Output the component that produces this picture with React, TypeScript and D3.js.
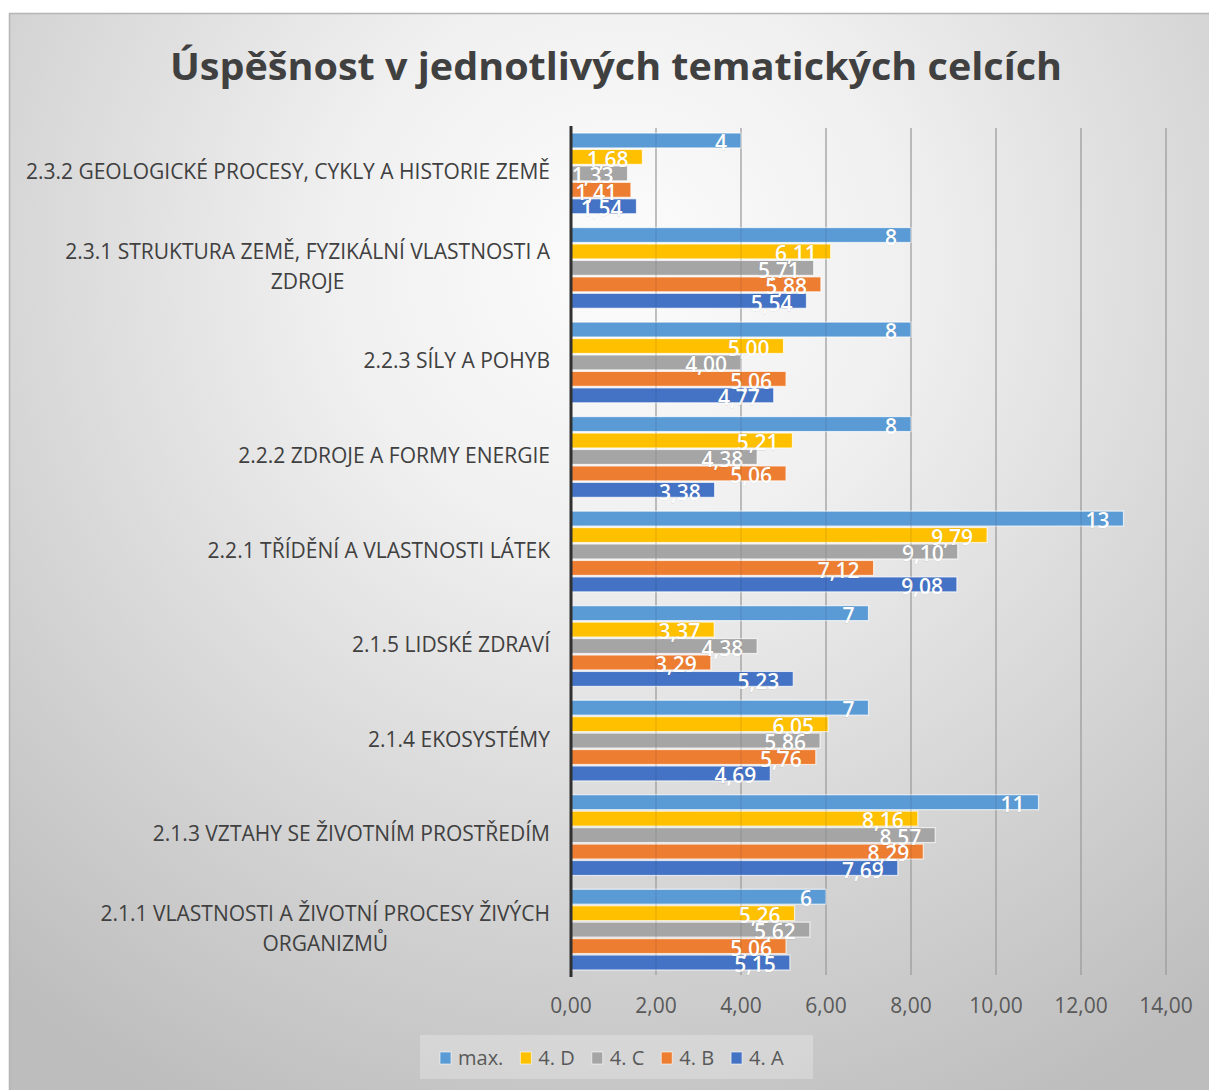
import React, { useEffect, useRef } from 'react';
import * as d3 from 'd3';

const categories = [
  '2.3.2 GEOLOGICKÉ PROCESY, CYKLY A HISTORIE ZEMĚ',
  '2.3.1 STRUKTURA ZEMĚ, FYZIKÁLNÍ VLASTNOSTI A\nZDROJE',
  '2.2.3 SÍLY A POHYB',
  '2.2.2 ZDROJE A FORMY ENERGIE',
  '2.2.1 TŘÍDĚNÍ A VLASTNOSTI LÁTEK',
  '2.1.5 LIDSKÉ ZDRAVÍ',
  '2.1.4 EKOSYSTÉMY',
  '2.1.3 VZTAHY SE ŽIVOTNÍM PROSTŘEDÍM',
  '2.1.1 VLASTNOSTI A ŽIVOTNÍ PROCESY ŽIVÝCH\nORGANIZMŮ',
];

const seriesNames = ['max.', '4. D', '4. C', '4. B', '4. A'];
const seriesColors = ['#5B9BD5', '#FFC000', '#A5A5A5', '#ED7D31', '#4472C4'];

const valuesMax = [4, 8, 8, 8, 13, 7, 7, 11, 6];
const values4D = [1.68, 6.11, 5.0, 5.21, 9.79, 3.37, 6.05, 8.16, 5.26];
const values4C = [1.33, 5.71, 4.0, 4.38, 9.1, 4.38, 5.86, 8.57, 5.62];
const values4B = [1.41, 5.88, 5.06, 5.06, 7.12, 3.29, 5.76, 8.29, 5.06];
const values4A = [1.54, 5.54, 4.77, 3.38, 9.08, 5.23, 4.69, 7.69, 5.15];

const xTicks = [0, 2, 4, 6, 8, 10, 12, 14];
const title = 'Úspěšnost v jednotlivých tematických celcích';

const FONT = '"Open Sans", Lato, sans-serif';

export default function App() {
  const ref = useRef<SVGSVGElement | null>(null);

  useEffect(() => {
    const W = 1209;
    const H = 1090;
    const svg = d3.select(ref.current);
    svg.selectAll('*').remove();

    const seriesValues = [valuesMax, values4D, values4C, values4B, values4A];

    const defs = svg.append('defs');
    const grad = defs
      .append('radialGradient')
      .attr('id', 'bg')
      .attr('gradientUnits', 'userSpaceOnUse')
      .attr('cx', 620)
      .attr('cy', 260)
      .attr('r', 950);
    grad.append('stop').attr('offset', 0).attr('stop-color', '#fcfcfc');
    grad.append('stop').attr('offset', 0.3).attr('stop-color', '#f0f0f0');
    grad.append('stop').attr('offset', 0.75).attr('stop-color', '#cfcfcf');
    grad.append('stop').attr('offset', 1).attr('stop-color', '#bdbdbd');

    svg.append('rect').attr('width', W).attr('height', H).attr('fill', '#ffffff');
    svg
      .append('rect')
      .attr('x', 9.5)
      .attr('y', 13.5)
      .attr('width', W + 10)
      .attr('height', H + 10)
      .attr('fill', 'url(#bg)')
      .attr('stroke', '#b5b5b5')
      .attr('stroke-width', 1.5);

    // title
    svg
      .append('text')
      .attr('x', 616)
      .attr('y', 80)
      .attr('text-anchor', 'middle')
      .attr('font-family', FONT)
      .attr('font-weight', 700)
      .attr('font-size', 37)
      .attr('fill', '#404040')
      .attr('textLength', 892)
      .attr('lengthAdjust', 'spacingAndGlyphs')
      .text(title);

    const x = d3.scaleLinear().domain([0, 14]).range([571, 1166]);
    const y = d3
      .scaleBand<number>()
      .domain(categories.map((_, i) => i))
      .range([128, 975])
      .paddingInner(0.13)
      .paddingOuter(0.045);
    const ys = d3
      .scaleBand<number>()
      .domain(seriesNames.map((_, i) => i))
      .range([0, y.bandwidth()]);

    // gridlines (behind)
    svg
      .append('g')
      .selectAll('line')
      .data(xTicks.filter((d) => d > 0))
      .join('line')
      .attr('x1', (d) => x(d))
      .attr('x2', (d) => x(d))
      .attr('y1', 128)
      .attr('y2', 975)
      .attr('stroke', '#ababab')
      .attr('stroke-width', 1.2);

    // bars
    const groups = svg
      .append('g')
      .selectAll('g')
      .data(categories.map((_, i) => i))
      .join('g')
      .attr('transform', (i) => `translate(0,${y(i)})`);

    groups.each(function (ci) {
      const g = d3.select(this);
      seriesNames.forEach((_, si) => {
        const v = seriesValues[si][ci];
        const by = ys(si)!;
        const bh = ys.bandwidth();
        g.append('rect')
          .attr('x', x(0))
          .attr('y', by + 0.75)
          .attr('width', x(v) - x(0))
          .attr('height', bh - 1.5)
          .attr('fill', seriesColors[si])
          .attr('stroke', 'rgba(255,255,255,0.7)')
          .attr('stroke-width', 1.2);
      });
    });

    // gridlines faintly visible through bars
    svg
      .append('g')
      .selectAll('line')
      .data(xTicks.filter((d) => d > 0))
      .join('line')
      .attr('x1', (d) => x(d))
      .attr('x2', (d) => x(d))
      .attr('y1', 128)
      .attr('y2', 975)
      .attr('stroke', 'rgba(0,0,0,0.1)')
      .attr('stroke-width', 1.2);

    // data labels
    groups.each(function (ci) {
      const g = d3.select(this);
      seriesNames.forEach((_, si) => {
        const v = seriesValues[si][ci];
        const by = ys(si)!;
        const bh = ys.bandwidth();
        const label = si === 0 ? d3.format('d')(v) : d3.format('.2f')(v).replace('.', ',');
        g.append('text')
          .attr('x', x(v) - 14)
          .attr('y', by + bh + 1.5)
          .attr('text-anchor', 'end')
          .attr('font-family', FONT)
          .attr('font-weight', 600)
          .attr('font-size', 21)
          .attr('fill', '#ffffff')
          .attr('stroke', 'rgba(0,0,0,0.12)')
          .attr('stroke-width', 0.8)
          .attr('paint-order', 'stroke')
          .text(label);
      });
    });

    // axis line
    svg
      .append('line')
      .attr('x1', x(0))
      .attr('x2', x(0))
      .attr('y1', 126)
      .attr('y2', 977)
      .attr('stroke', '#303030')
      .attr('stroke-width', 3);

    // category labels
    categories.forEach((c, i) => {
      const lines = c.split('\n');
      const cy = y(i)! + y.bandwidth() / 2;
      const g = svg.append('g');
      const texts = lines.map((ln) =>
        g
          .append('text')
          .attr('font-family', FONT)
          .attr('font-size', 21)
          .attr('fill', '#404040')
          .attr('text-anchor', 'middle')
          .text(ln)
      );
      const widths = texts.map((tx) => (tx.node() as SVGTextElement).getComputedTextLength());
      const maxW = Math.max(...widths);
      const center = 550 - maxW / 2;
      const lh = 30;
      texts.forEach((tx, li) => {
        const off = (li - (lines.length - 1) / 2) * lh;
        tx.attr('x', center).attr('y', cy + off + 6);
      });
    });

    // tick labels
    svg
      .append('g')
      .selectAll('text')
      .data(xTicks)
      .join('text')
      .attr('x', (d) => x(d))
      .attr('y', 1013)
      .attr('text-anchor', 'middle')
      .attr('font-family', FONT)
      .attr('font-size', 21)
      .attr('fill', '#595959')
      .text((d) => d3.format('.2f')(d).replace('.', ','));

    // legend
    const lg = svg.append('g');
    lg.append('rect')
      .attr('x', 420)
      .attr('y', 1035)
      .attr('width', 393)
      .attr('height', 44)
      .attr('fill', 'rgba(255,255,255,0.25)');
    let lx = 440;
    seriesNames.forEach((name, si) => {
      lg.append('rect')
        .attr('x', lx)
        .attr('y', 1052)
        .attr('width', 11)
        .attr('height', 12)
        .attr('fill', seriesColors[si])
        .attr('stroke', 'rgba(255,255,255,0.6)')
        .attr('stroke-width', 1);
      const tx = lg
        .append('text')
        .attr('x', lx + 18)
        .attr('y', 1065)
        .attr('font-family', FONT)
        .attr('font-size', 20)
        .attr('fill', '#595959')
        .text(name);
      const w = (tx.node() as SVGTextElement).getComputedTextLength();
      lx = lx + 18 + w + 17;
    });
  }, []);

  return (
    <div style={{ position: 'fixed', left: 0, top: 0 }}>
      <svg ref={ref} width={1209} height={1090} style={{ display: 'block' }} />
    </div>
  );
}
